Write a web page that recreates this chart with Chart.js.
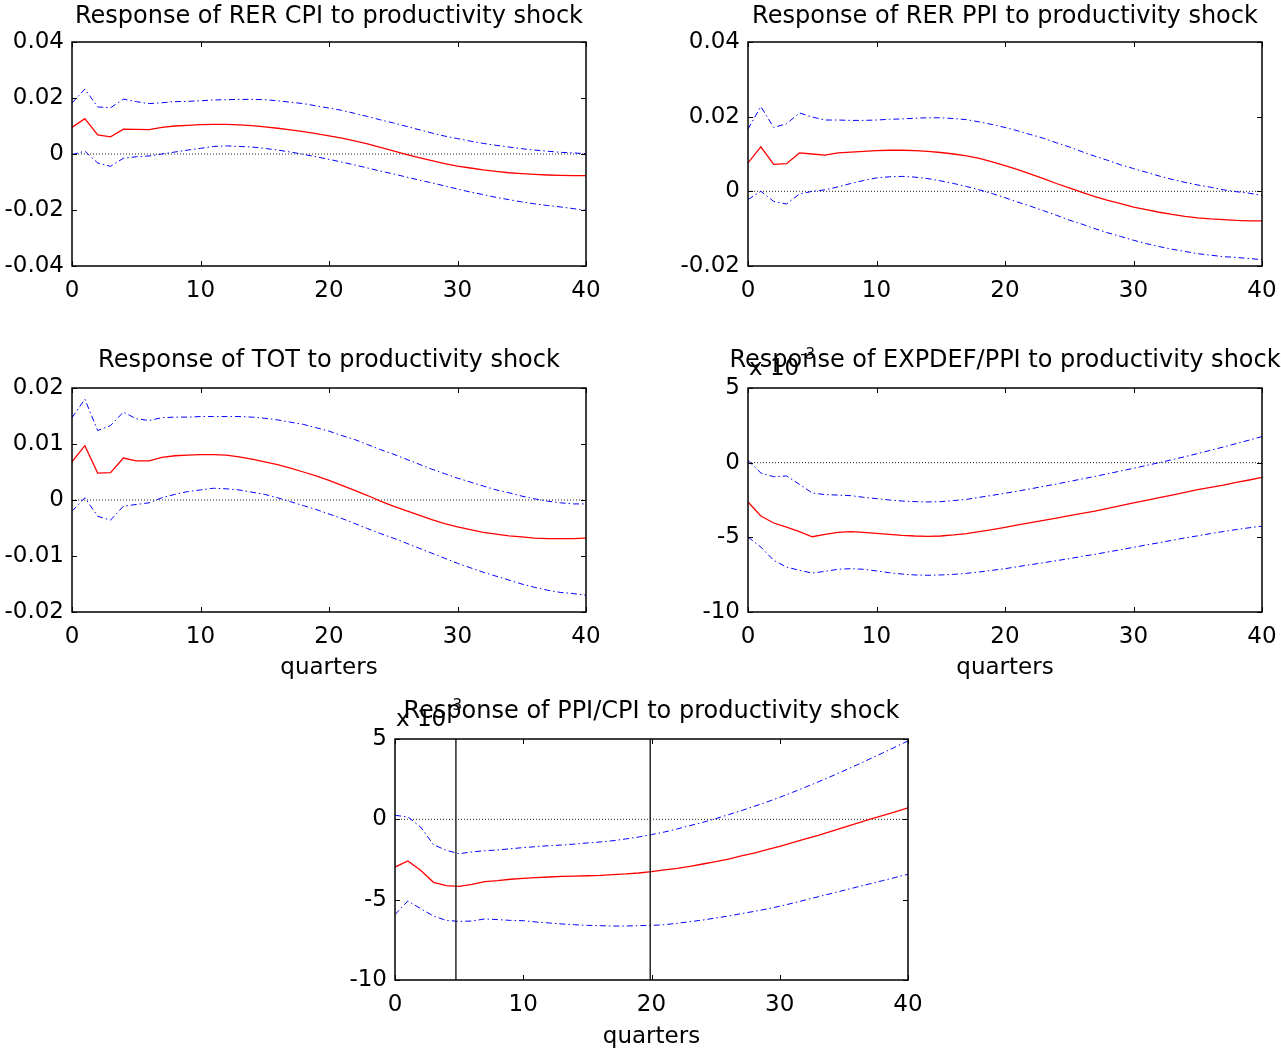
<!DOCTYPE html>
<html>
<head>
<meta charset="utf-8">
<title>Responses to productivity shock</title>
<script src="https://cdn.jsdelivr.net/npm/chart.js@4.4.1/dist/chart.umd.min.js"></script>
<style>
  html, body { margin: 0; padding: 0; background: #fff; overflow: hidden; }
  #wrap { position: relative; width: 1281px; height: 1051px; }
  #wrap canvas { position: absolute; left: 0; top: 0; }
</style>
</head>
<body>
<div id="wrap">
  <canvas id="rerCpi" width="1281" height="1051"></canvas>
  <canvas id="rerPpi" width="1281" height="1051"></canvas>
  <canvas id="tot" width="1281" height="1051"></canvas>
  <canvas id="expdef" width="1281" height="1051"></canvas>
  <canvas id="ppiCpi" width="1281" height="1051"></canvas>
</div>
<script>
// horizon in quarters
const quarters = Array.from({ length: 41 }, (_, i) => i);
const xTicks = [0, 10, 20, 30, 40];

// RER CPI
const rerCpiMid = [0.0095, 0.0126, 0.0068, 0.0061, 0.0089, 0.0088, 0.0087, 0.0095, 0.0100, 0.0102, 0.0105, 0.0106, 0.0106, 0.0104, 0.0101, 0.0097, 0.0092, 0.0086, 0.0080, 0.0073, 0.0065, 0.0057, 0.0047, 0.0036, 0.0024, 0.0011, -0.0001, -0.0013, -0.0024, -0.0034, -0.0043, -0.0050, -0.0057, -0.0062, -0.0067, -0.0070, -0.0073, -0.0075, -0.0076, -0.0077, -0.0077];
const rerCpiHi = [0.0182, 0.0232, 0.0168, 0.0165, 0.0196, 0.0187, 0.0180, 0.0183, 0.0187, 0.0188, 0.0190, 0.0193, 0.0194, 0.0195, 0.0195, 0.0194, 0.0190, 0.0185, 0.0180, 0.0172, 0.0164, 0.0156, 0.0145, 0.0134, 0.0122, 0.0111, 0.0099, 0.0087, 0.0075, 0.0064, 0.0055, 0.0046, 0.0038, 0.0031, 0.0025, 0.0019, 0.0014, 0.0010, 0.0006, 0.0004, 0.0001];
const rerCpiLo = [-0.0002, 0.0010, -0.0032, -0.0044, -0.0015, -0.0010, -0.0007, 0.0000, 0.0007, 0.0014, 0.0020, 0.0027, 0.0029, 0.0027, 0.0025, 0.0020, 0.0014, 0.0007, -0.0001, -0.0010, -0.0019, -0.0029, -0.0039, -0.0050, -0.0061, -0.0071, -0.0082, -0.0093, -0.0103, -0.0114, -0.0125, -0.0136, -0.0145, -0.0155, -0.0163, -0.0171, -0.0178, -0.0184, -0.0189, -0.0195, -0.0201];
const rerCpiTicks = [-0.04, -0.02, 0, 0.02, 0.04];

// RER PPI
const rerPpiMid = [0.0076, 0.0119, 0.0072, 0.0074, 0.0103, 0.0100, 0.0097, 0.0103, 0.0105, 0.0107, 0.0109, 0.0110, 0.0110, 0.0109, 0.0107, 0.0104, 0.0100, 0.0095, 0.0088, 0.0079, 0.0069, 0.0058, 0.0046, 0.0034, 0.0021, 0.0009, -0.0003, -0.0014, -0.0024, -0.0033, -0.0042, -0.0049, -0.0056, -0.0062, -0.0067, -0.0071, -0.0074, -0.0076, -0.0078, -0.0079, -0.0079];
const rerPpiHi = [0.0167, 0.0227, 0.0171, 0.0181, 0.0210, 0.0199, 0.0191, 0.0191, 0.0190, 0.0190, 0.0191, 0.0193, 0.0194, 0.0196, 0.0197, 0.0197, 0.0195, 0.0192, 0.0186, 0.0179, 0.0171, 0.0162, 0.0152, 0.0142, 0.0130, 0.0119, 0.0106, 0.0094, 0.0083, 0.0071, 0.0061, 0.0051, 0.0041, 0.0032, 0.0024, 0.0017, 0.0011, 0.0004, -0.0001, -0.0005, -0.0011];
const rerPpiLo = [-0.0022, 0.0000, -0.0027, -0.0034, -0.0007, 0.0000, 0.0004, 0.0012, 0.0021, 0.0029, 0.0036, 0.0039, 0.0040, 0.0038, 0.0034, 0.0028, 0.0021, 0.0013, 0.0004, -0.0006, -0.0017, -0.0029, -0.0040, -0.0052, -0.0064, -0.0077, -0.0088, -0.0100, -0.0111, -0.0121, -0.0131, -0.0140, -0.0148, -0.0155, -0.0161, -0.0167, -0.0171, -0.0175, -0.0177, -0.0180, -0.0183];
const rerPpiTicks = [-0.02, 0, 0.02, 0.04];

// terms of trade
const totMid = [0.0068, 0.0097, 0.0048, 0.0049, 0.0075, 0.0070, 0.0070, 0.0076, 0.0079, 0.0080, 0.0081, 0.0081, 0.0080, 0.0077, 0.0073, 0.0068, 0.0063, 0.0057, 0.0050, 0.0043, 0.0035, 0.0026, 0.0017, 0.0008, -0.0002, -0.0011, -0.0019, -0.0027, -0.0035, -0.0042, -0.0048, -0.0053, -0.0058, -0.0061, -0.0064, -0.0066, -0.0068, -0.0069, -0.0069, -0.0069, -0.0068];
const totHi = [0.0147, 0.0180, 0.0124, 0.0133, 0.0157, 0.0145, 0.0142, 0.0147, 0.0148, 0.0148, 0.0149, 0.0149, 0.0149, 0.0149, 0.0148, 0.0146, 0.0143, 0.0139, 0.0135, 0.0129, 0.0123, 0.0115, 0.0108, 0.0099, 0.0090, 0.0082, 0.0073, 0.0064, 0.0055, 0.0047, 0.0039, 0.0032, 0.0025, 0.0018, 0.0013, 0.0007, 0.0002, -0.0002, -0.0005, -0.0007, -0.0007];
const totLo = [-0.0020, 0.0004, -0.0029, -0.0036, -0.0011, -0.0008, -0.0005, 0.0004, 0.0010, 0.0015, 0.0018, 0.0021, 0.0020, 0.0018, 0.0014, 0.0010, 0.0004, -0.0003, -0.0010, -0.0017, -0.0025, -0.0033, -0.0042, -0.0051, -0.0060, -0.0068, -0.0077, -0.0086, -0.0095, -0.0104, -0.0113, -0.0121, -0.0129, -0.0136, -0.0143, -0.0150, -0.0156, -0.0161, -0.0165, -0.0167, -0.0170];
const totTicks = [-0.02, -0.01, 0, 0.01, 0.02];

// EXPDEF/PPI, in units of 10^-3
const expMid = [-2.63, -3.57, -4.04, -4.31, -4.62, -4.96, -4.80, -4.67, -4.62, -4.67, -4.73, -4.80, -4.87, -4.91, -4.93, -4.91, -4.84, -4.75, -4.62, -4.49, -4.33, -4.17, -4.02, -3.86, -3.71, -3.55, -3.39, -3.24, -3.06, -2.88, -2.70, -2.52, -2.34, -2.17, -1.99, -1.81, -1.65, -1.50, -1.32, -1.16, -0.98];
const expHi = [0.15, -0.69, -0.94, -0.89, -1.45, -2.03, -2.14, -2.17, -2.21, -2.32, -2.41, -2.50, -2.57, -2.61, -2.63, -2.61, -2.54, -2.46, -2.32, -2.19, -2.05, -1.90, -1.75, -1.59, -1.43, -1.26, -1.09, -0.92, -0.74, -0.56, -0.38, -0.19, 0.00, 0.20, 0.40, 0.61, 0.83, 1.05, 1.28, 1.51, 1.75];
const expLo = [-4.98, -5.65, -6.54, -6.99, -7.21, -7.39, -7.28, -7.14, -7.10, -7.14, -7.25, -7.37, -7.46, -7.52, -7.54, -7.52, -7.48, -7.41, -7.32, -7.21, -7.10, -6.96, -6.83, -6.70, -6.56, -6.43, -6.27, -6.14, -5.98, -5.83, -5.67, -5.51, -5.36, -5.20, -5.04, -4.90, -4.75, -4.61, -4.48, -4.36, -4.25];
const expTicks = [-10, -5, 0, 5];

// PPI/CPI, in units of 10^-3
const ppiMid = [-2.97, -2.59, -3.17, -3.92, -4.13, -4.17, -4.05, -3.88, -3.82, -3.73, -3.67, -3.63, -3.59, -3.55, -3.53, -3.51, -3.49, -3.44, -3.40, -3.34, -3.26, -3.15, -3.05, -2.93, -2.78, -2.63, -2.47, -2.28, -2.10, -1.89, -1.68, -1.45, -1.22, -1.00, -0.75, -0.50, -0.25, 0.00, 0.23, 0.46, 0.71];
const ppiHi = [0.25, 0.15, -0.48, -1.58, -1.93, -2.14, -2.03, -1.95, -1.91, -1.83, -1.76, -1.70, -1.64, -1.60, -1.54, -1.47, -1.41, -1.33, -1.22, -1.10, -0.95, -0.79, -0.60, -0.39, -0.19, 0.04, 0.29, 0.54, 0.81, 1.08, 1.37, 1.68, 2.00, 2.33, 2.67, 3.02, 3.38, 3.75, 4.12, 4.50, 4.88];
const ppiLo = [-5.93, -5.08, -5.56, -6.02, -6.29, -6.35, -6.33, -6.20, -6.24, -6.29, -6.31, -6.39, -6.45, -6.51, -6.56, -6.60, -6.62, -6.64, -6.64, -6.62, -6.60, -6.56, -6.47, -6.37, -6.27, -6.14, -6.02, -5.87, -5.73, -5.58, -5.41, -5.22, -5.02, -4.82, -4.62, -4.42, -4.22, -4.02, -3.82, -3.62, -3.42];
const ppiTicks = [-10, -5, 0, 5];
const ppiMarks = [4.75, 19.9];

Chart.defaults.font.family = '"DejaVu Sans", sans-serif';
Chart.defaults.color = '#000';

const W = 1281, H = 1051, Y_AXIS_W = 72;
const LABEL_SIZE = 23;

const fmt = v => String(+v.toFixed(4));
const pts = arr => quarters.map((q, i) => ({ x: q, y: arr[i] }));

function line(data, color, width, dash) {
  return {
    data, borderColor: color, borderWidth: width, borderDash: dash || [],
    pointRadius: 0, tension: 0, fill: false
  };
}

// box, inner tick marks, title and exponent note
const matlabFrame = {
  id: 'matlabFrame',
  afterDraw(chart, args, opts) {
    const { ctx, chartArea: a, scales: { x, y } } = chart;
    const t = 5;
    ctx.save();
    ctx.strokeStyle = '#000';
    ctx.lineWidth = 1;
    ctx.beginPath();
    x.ticks.forEach(tk => {
      const px = Math.round(x.getPixelForValue(tk.value)) + 0.5;
      ctx.moveTo(px, a.bottom); ctx.lineTo(px, a.bottom - t);
      ctx.moveTo(px, a.top); ctx.lineTo(px, a.top + t);
    });
    y.ticks.forEach(tk => {
      const py = Math.round(y.getPixelForValue(tk.value)) + 0.5;
      ctx.moveTo(a.left, py); ctx.lineTo(a.left + t, py);
      ctx.moveTo(a.right, py); ctx.lineTo(a.right - t, py);
    });
    ctx.stroke();
    ctx.lineWidth = 1.5;
    ctx.strokeRect(a.left, a.top, a.right - a.left, a.bottom - a.top);

    ctx.fillStyle = '#000';
    ctx.textBaseline = 'alphabetic';
    if (opts.exponent) {
      ctx.textAlign = 'left';
      ctx.font = LABEL_SIZE + 'px "DejaVu Sans"';
      const base = 'x 10';
      ctx.fillText(base, a.left + 1, a.top - 13);
      const w = ctx.measureText(base).width;
      ctx.font = '15px "DejaVu Sans"';
      ctx.fillText(opts.exponent, a.left + 2 + w, a.top - 29);
    }
    ctx.textAlign = 'center';
    ctx.font = '24px "DejaVu Sans"';
    ctx.fillText(opts.title, (a.left + a.right) / 2, a.top - opts.titleGap);
    ctx.restore();
  }
};

function panel(id, box, cfg) {
  const datasets = [];
  (cfg.marks || []).forEach(m => {
    datasets.push(line([{ x: m, y: cfg.yTicks[0] }, { x: m, y: cfg.yTicks[cfg.yTicks.length - 1] }], '#1a1a1a', 1.4));
  });
  datasets.push(line(pts(cfg.mid), '#ff0000', 1.3));
  datasets.push(line(pts(cfg.hi), '#0000ff', 1, [6, 3, 1.5, 3]));
  datasets.push(line(pts(cfg.lo), '#0000ff', 1, [6, 3, 1.5, 3]));
  datasets.push(line(pts(quarters.map(() => 0)), '#222', 1, [1, 2]));

  return new Chart(document.getElementById(id), {
    type: 'line',
    data: { datasets },
    options: {
      responsive: false,
      animation: false,
      devicePixelRatio: 1,
      events: [],
      layout: {
        padding: { left: box.l - Y_AXIS_W, top: box.t, right: W - box.r, bottom: H - box.b - cfg.xH }
      },
      plugins: {
        legend: { display: false },
        tooltip: { enabled: false },
        matlabFrame: { title: cfg.title, titleGap: cfg.titleGap, exponent: cfg.exponent }
      },
      scales: {
        x: {
          type: 'linear', min: 0, max: 40,
          grid: { display: false, drawTicks: false },
          border: { display: false },
          ticks: { padding: 11, autoSkip: false, maxRotation: 0, font: { size: LABEL_SIZE }, color: '#000' },
          afterBuildTicks: s => { s.ticks = xTicks.map(v => ({ value: v })); },
          afterFit: s => { s.height = cfg.xH; s.paddingLeft = 0; s.paddingRight = 0; },
          title: { display: !!cfg.xTitle, text: cfg.xTitle || '', padding: 0, font: { size: LABEL_SIZE }, color: '#000' }
        },
        y: {
          type: 'linear',
          min: cfg.yTicks[0], max: cfg.yTicks[cfg.yTicks.length - 1],
          grid: { display: false, drawTicks: false },
          border: { display: false },
          ticks: { padding: 8, autoSkip: false, font: { size: LABEL_SIZE }, color: '#000', callback: v => fmt(v) },
          afterBuildTicks: s => { s.ticks = cfg.yTicks.map(v => ({ value: v })); },
          afterFit: s => { s.width = Y_AXIS_W; s.paddingTop = 0; s.paddingBottom = 0; }
        }
      }
    },
    plugins: [matlabFrame]
  });
}

panel('rerCpi', { l: 72, r: 586, t: 42, b: 266 }, {
  title: 'Response of RER CPI to productivity shock', titleGap: 19,
  mid: rerCpiMid, hi: rerCpiHi, lo: rerCpiLo, yTicks: rerCpiTicks, xH: 44
});
panel('rerPpi', { l: 748, r: 1262, t: 42, b: 266 }, {
  title: 'Response of RER PPI to productivity shock', titleGap: 19,
  mid: rerPpiMid, hi: rerPpiHi, lo: rerPpiLo, yTicks: rerPpiTicks, xH: 44
});
panel('tot', { l: 72, r: 586, t: 388, b: 612 }, {
  title: 'Response of TOT to productivity shock', titleGap: 21,
  mid: totMid, hi: totHi, lo: totLo, yTicks: totTicks, xH: 70, xTitle: 'quarters'
});
panel('expdef', { l: 748, r: 1262, t: 388, b: 612 }, {
  title: 'Response of EXPDEF/PPI to productivity shock', titleGap: 21, exponent: '-3',
  mid: expMid, hi: expHi, lo: expLo, yTicks: expTicks, xH: 70, xTitle: 'quarters'
});
panel('ppiCpi', { l: 395, r: 908, t: 739, b: 980 }, {
  title: 'Response of PPI/CPI to productivity shock', titleGap: 21, exponent: '-3',
  mid: ppiMid, hi: ppiHi, lo: ppiLo, yTicks: ppiTicks, xH: 71, xTitle: 'quarters', marks: ppiMarks
});
</script>
</body>
</html>
